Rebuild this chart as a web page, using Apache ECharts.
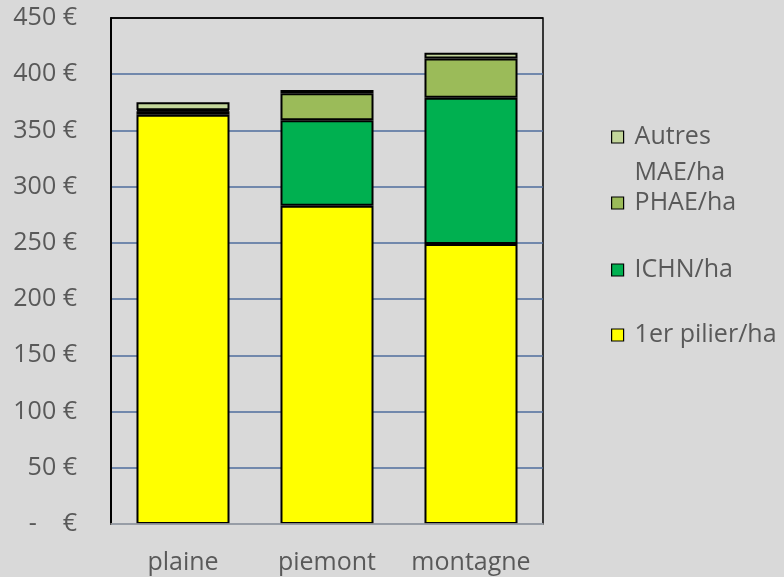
<!DOCTYPE html>
<html>
<head>
<meta charset="utf-8">
<script src="https://cdn.jsdelivr.net/npm/echarts@6/dist/echarts.min.js"></script>
<style>
    html, body { margin: 0; padding: 0; background: #d9d9d9; }
    #chart { width: 784px; height: 577px; }
</style>
</head>
<body>
<div id="chart"></div>
<script>
    var categories = ['plaine', 'piemont', 'montagne'];
    var pilier1 = [364, 283, 249];
    var ichn = [3, 76, 130];
    var phae = [1, 24, 35];
    var autresMae = [7, 3, 5];
    var yTicks = [0, 50, 100, 150, 200, 250, 300, 350, 400, 450];

    var FONT = 'Open Sans';
    var TXT = '#595959';

    var seriesDefs = [
        { name: '1er pilier/ha', data: pilier1, color: '#ffff00' },
        { name: 'ICHN/ha', data: ichn, color: '#00b050' },
        { name: 'PHAE/ha', data: phae, color: '#9bbb59' },
        { name: 'Autres MAE/ha', data: autresMae, color: '#c3d69b' }
    ];

    // une légende par entrée pour placer chaque ligne comme dans l'original
    var legendTops = [317, 252, 185, 83];
    var legends = seriesDefs.map(function (s, i) {
        return {
            data: [s.name],
            left: 611,
            top: legendTops[i],
            padding: 0,
            orient: 'vertical',
            itemWidth: 12,
            itemHeight: 12,
            itemGap: 0,
            icon: 'rect',
            itemStyle: { borderColor: '#000', borderWidth: 1.2 },
            formatter: function (name) {
                if (name === 'Autres MAE/ha') {
                    return '\nAutres\nMAE/ha';
                }
                return name;
            },
            textStyle: { fontFamily: FONT, fontSize: 25, color: TXT, lineHeight: 36, padding: [0, 0, 0, 6] }
        };
    });

    // ligne du haut du cadre en noir, les autres en bleu
    var splitColors = yTicks.map(function (v, i) {
        return i === yTicks.length - 1 ? '#000' : '#4e6d9c';
    });

    var myChart = echarts.init(document.getElementById('chart'));
    var option = {
        backgroundColor: '#d9d9d9',
        animation: false,
        legend: legends,
        grid: {
            left: 111,
            right: 241,
            top: 18,
            bottom: 53,
            show: true,
            borderColor: '#000',
            borderWidth: 1.5,
            backgroundColor: 'transparent'
        },
        xAxis: {
            type: 'category',
            data: categories,
            axisTick: { show: false },
            axisLine: { show: true, lineStyle: { color: '#b3b3b3', width: 1.5 } },
            axisLabel: { interval: 0, hideOverlap: false, fontFamily: FONT, fontSize: 25, color: TXT, margin: 26 },
            z: 10
        },
        yAxis: {
            type: 'value',
            min: yTicks[0],
            max: yTicks[yTicks.length - 1],
            interval: 50,
            axisLine: { show: true, lineStyle: { color: '#000', width: 2 } },
            axisTick: { show: false },
            splitLine: { lineStyle: { color: splitColors, width: 1.5 } },
            axisLabel: {
                fontFamily: FONT,
                fontSize: 25,
                color: TXT,
                margin: 34,
                formatter: function (v) {
                    return v === 0 ? '-    €' : v + ' €';
                }
            }
        },
        series: seriesDefs.map(function (s) {
            return {
                name: s.name,
                type: 'bar',
                stack: 'total',
                data: s.data,
                barWidth: '64.6%',
                itemStyle: { color: s.color, borderColor: '#000', borderWidth: 2 }
            };
        })
    };
    myChart.setOption(option, true);
</script>
</body>
</html>
